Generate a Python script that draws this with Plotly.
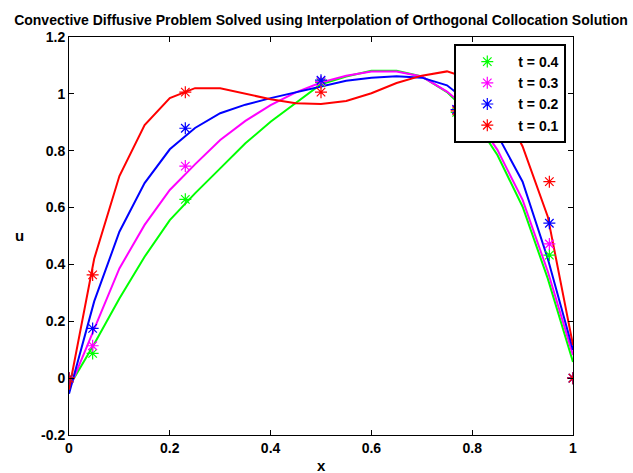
import plotly.graph_objects as go

# ---- data ----
x_grid = [0.00, 0.05, 0.10, 0.15, 0.20, 0.25, 0.30, 0.35, 0.40, 0.45, 0.50,
          0.55, 0.60, 0.65, 0.70, 0.75, 0.80, 0.85, 0.90, 0.95, 1.00]

u_t04 = [-0.03, 0.12, 0.28, 0.427, 0.556, 0.65, 0.738, 0.826, 0.902, 0.967, 1.034,
         1.061, 1.081, 1.081, 1.061, 1.006, 0.92, 0.785, 0.603, 0.35, 0.057]
u_t03 = [-0.04, 0.17, 0.386, 0.539, 0.662, 0.752, 0.838, 0.905, 0.96, 1.005, 1.04,
         1.064, 1.079, 1.079, 1.061, 1.008, 0.935, 0.803, 0.627, 0.375, 0.081]
u_t02 = [-0.055, 0.27, 0.515, 0.686, 0.805, 0.88, 0.932, 0.962, 0.985, 1.006, 1.026,
         1.046, 1.057, 1.062, 1.057, 1.03, 0.96, 0.856, 0.691, 0.42, 0.099]
u_t01 = [-0.04, 0.42, 0.711, 0.89, 0.985, 1.02, 1.02, 1.00, 0.981, 0.967, 0.964,
         0.975, 1.002, 1.038, 1.064, 1.079, 1.05, 0.99, 0.815, 0.568, 0.116]

x_coll = [0.0, 0.0469, 0.2308, 0.5, 0.7692, 0.9531, 1.0]
c_t04 = [0.0, 0.087, 0.629, 1.04, 0.935, 0.433, 0.0]
c_t03 = [0.0, 0.114, 0.746, 1.043, 0.945, 0.472, 0.0]
c_t02 = [0.0, 0.175, 0.879, 1.048, 0.945, 0.545, 0.0]
c_t01 = [0.0, 0.363, 1.006, 1.006, 0.94, 0.691, 0.0]

labels = ["t = 0.4", "t = 0.3", "t = 0.2", "t = 0.1"]
colors = ["#00ff00", "#ff00ff", "#0000ff", "#ff0000"]

x_ticks = [0, 0.2, 0.4, 0.6, 0.8, 1.0]
x_ticktext = ["0", "0.2", "0.4", "0.6", "0.8", "1"]
y_ticks = [-0.2, 0, 0.2, 0.4, 0.6, 0.8, 1.0, 1.2]
y_ticktext = ["-0.2", "0", "0.2", "0.4", "0.6", "0.8", "1", "1.2"]

title_text = "Convective Diffusive Problem Solved using Interpolation of Orthogonal Collocation Solution"

FONT = "Liberation Sans, Arial, Helvetica, sans-serif"

fig = go.Figure()

lines = [u_t04, u_t03, u_t02, u_t01]
colls = [c_t04, c_t03, c_t02, c_t01]

# solution curves
for u, col in zip(lines, colors):
    fig.add_trace(go.Scatter(x=x_grid, y=u, mode="lines",
                             line=dict(color=col, width=2),
                             showlegend=False, hoverinfo="skip"))

# collocation points (stars)
for c, col, lab in zip(colls, colors, labels):
    fig.add_trace(go.Scatter(x=x_coll, y=c, mode="markers", name=lab,
                             marker=dict(symbol="asterisk-open", size=10,
                                         color=col, line=dict(color=col, width=1.2))))

fig.update_layout(
    width=633, height=473,
    margin=dict(l=69, r=60, t=37, b=38),
    paper_bgcolor="white", plot_bgcolor="white",
    font=dict(family=FONT, size=14, color="black", weight="bold"),
    title=dict(text=title_text, x=0.5, xref="paper", xanchor="center",
               y=1 - 20 / 473, yref="container", yanchor="middle",
               font=dict(family=FONT, size=14, color="black", weight="bold")),
    legend=dict(x=0.9867, y=0.9824, xanchor="right", yanchor="top",
                bgcolor="white", bordercolor="black", borderwidth=2,
                font=dict(family=FONT, size=14, color="black", weight="bold"),
                itemwidth=52, traceorder="normal"),
    showlegend=True,
)

fig.update_xaxes(range=[0, 1], tickvals=x_ticks, ticktext=x_ticktext,
                 showgrid=False, zeroline=False, showline=True, linecolor="black",
                 linewidth=1, mirror="ticks", ticks="inside", ticklen=5,
                 tickcolor="black", tickfont=dict(size=14, weight="bold"))
fig.update_yaxes(range=[-0.2, 1.2], tickvals=y_ticks, ticktext=y_ticktext,
                 showgrid=False, zeroline=False, showline=True, linecolor="black",
                 linewidth=1, mirror="ticks", ticks="inside", ticklen=5,
                 tickcolor="black", tickfont=dict(size=14, weight="bold"))

fig.add_annotation(text="u", xref="paper", yref="paper", x=(19 - 69) / 504,
                   y=(435 - 235) / 398, showarrow=False, xanchor="center",
                   yanchor="middle", font=dict(family=FONT, size=15, weight="bold"))
fig.add_annotation(text="x", xref="paper", yref="paper", x=0.5,
                   y=(435 - 465) / 398, showarrow=False, xanchor="center",
                   yanchor="middle", font=dict(family=FONT, size=15, weight="bold"))

fig.write_html("out.html")
